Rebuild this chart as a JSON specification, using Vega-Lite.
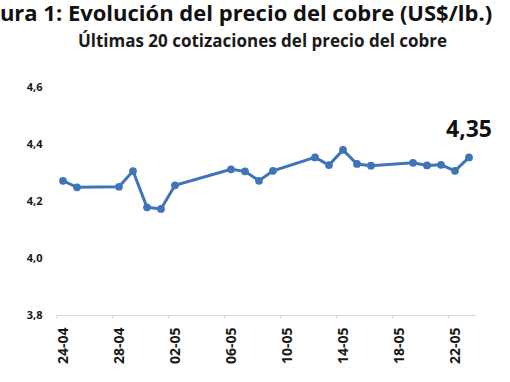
{
  "$schema": "https://vega.github.io/schema/vega-lite/v6.json",
  "autosize": "none",
  "padding": {"left": 56, "top": 87, "right": 34, "bottom": 67},
  "width": 420,
  "height": 228,
  "background": "white",
  "title": {
    "text": "ura 1: Evolución del precio del cobre (US$/lb.)",
    "font": "Open Sans",
    "fontSize": 22,
    "fontWeight": "bold",
    "color": "#111111",
    "anchor": "middle",
    "frame": "group",
    "dx": -20,
    "offset": 6
  },
  "config": {
    "locale": {"number": {"decimal": ",", "thousands": ".", "grouping": [3], "currency": ["", " US$"]}},
    "view": {"stroke": null}
  },
  "data": {
    "values": [
      {"date": "2025-04-24", "precio": 4.271},
      {"date": "2025-04-25", "precio": 4.248},
      {"date": "2025-04-28", "precio": 4.250},
      {"date": "2025-04-29", "precio": 4.305},
      {"date": "2025-04-30", "precio": 4.178},
      {"date": "2025-05-01", "precio": 4.172},
      {"date": "2025-05-02", "precio": 4.255},
      {"date": "2025-05-06", "precio": 4.311},
      {"date": "2025-05-07", "precio": 4.304},
      {"date": "2025-05-08", "precio": 4.271},
      {"date": "2025-05-09", "precio": 4.306},
      {"date": "2025-05-12", "precio": 4.353},
      {"date": "2025-05-13", "precio": 4.326},
      {"date": "2025-05-14", "precio": 4.379},
      {"date": "2025-05-15", "precio": 4.330},
      {"date": "2025-05-16", "precio": 4.324},
      {"date": "2025-05-19", "precio": 4.334},
      {"date": "2025-05-20", "precio": 4.325},
      {"date": "2025-05-21", "precio": 4.327},
      {"date": "2025-05-22", "precio": 4.306},
      {"date": "2025-05-23", "precio": 4.353}
    ]
  },
  "encoding": {
    "y": {
      "field": "precio",
      "type": "quantitative",
      "scale": {"domain": [3.8, 4.6], "nice": false, "zero": false},
      "axis": {
        "title": null,
        "values": [3.8, 4.0, 4.2, 4.4, 4.6],
        "format": ".1f",
        "labelFont": "Open Sans",
        "labelFontSize": 11,
        "labelFontWeight": "bold",
        "labelColor": "#1a1a1a",
        "labelPadding": 14,
        "ticks": false,
        "domain": false,
        "grid": false
      }
    }
  },
  "layer": [
    {
      "mark": {"type": "line", "color": "#3f74b9", "strokeWidth": 3},
      "encoding": {
        "x": {
          "field": "date",
          "type": "temporal",
          "scale": {
            "type": "utc",
            "domain": [
              {"year": 2025, "month": 4, "date": 23, "hours": 12, "utc": true},
              {"year": 2025, "month": 5, "date": 23, "hours": 12, "utc": true}
            ]
          },
          "axis": {
            "title": null,
            "format": "%d-%m",
            "values": [
              {"year": 2025, "month": 4, "date": 24, "utc": true},
              {"year": 2025, "month": 4, "date": 28, "utc": true},
              {"year": 2025, "month": 5, "date": 2, "utc": true},
              {"year": 2025, "month": 5, "date": 6, "utc": true},
              {"year": 2025, "month": 5, "date": 10, "utc": true},
              {"year": 2025, "month": 5, "date": 14, "utc": true},
              {"year": 2025, "month": 5, "date": 18, "utc": true},
              {"year": 2025, "month": 5, "date": 22, "utc": true}
            ],
            "labelAngle": -90,
            "labelAlign": "right",
            "labelBaseline": "middle",
            "labelFont": "Open Sans",
            "labelFontSize": 14,
            "labelFontWeight": "bold",
            "labelColor": "#1a1a1a",
            "labelPadding": 9,
            "labelOverlap": false,
            "tickOffset": -7,
            "labelOffset": 7,
            "tickSize": 3,
            "tickColor": "#d9d9d9",
            "domainColor": "#d9d9d9",
            "grid": false
          }
        }
      }
    },
    {
      "mark": {"type": "point", "filled": true, "color": "#3f74b9", "size": 60, "opacity": 1},
      "encoding": {
        "x": {
          "field": "date",
          "type": "temporal",
          "axis": {
            "orient": "top",
            "title": "Últimas 20 cotizaciones del precio del cobre",
            "titleFont": "Open Sans",
            "titleFontSize": 17,
            "titleFontWeight": "bold",
            "titleColor": "#1a1a1a",
            "titleX": 206,
            "titleY": -41,
            "titleBaseline": "alphabetic",
            "titleAlign": "center",
            "labels": false,
            "ticks": false,
            "domain": false,
            "grid": false
          }
        }
      }
    },
    {
      "transform": [
        {"filter": {"field": "date", "equal": {"year": 2025, "month": 5, "date": 23, "utc": true}}}
      ],
      "mark": {"type": "text", "font": "Open Sans", "fontSize": 23, "fontWeight": "bold", "color": "#111111", "dy": -27, "baseline": "middle"},
      "encoding": {
        "x": {"field": "date", "type": "temporal", "axis": null},
        "text": {"field": "precio", "type": "quantitative", "format": ".2f"}
      }
    }
  ],
  "resolve": {"axis": {"x": "independent"}}
}
